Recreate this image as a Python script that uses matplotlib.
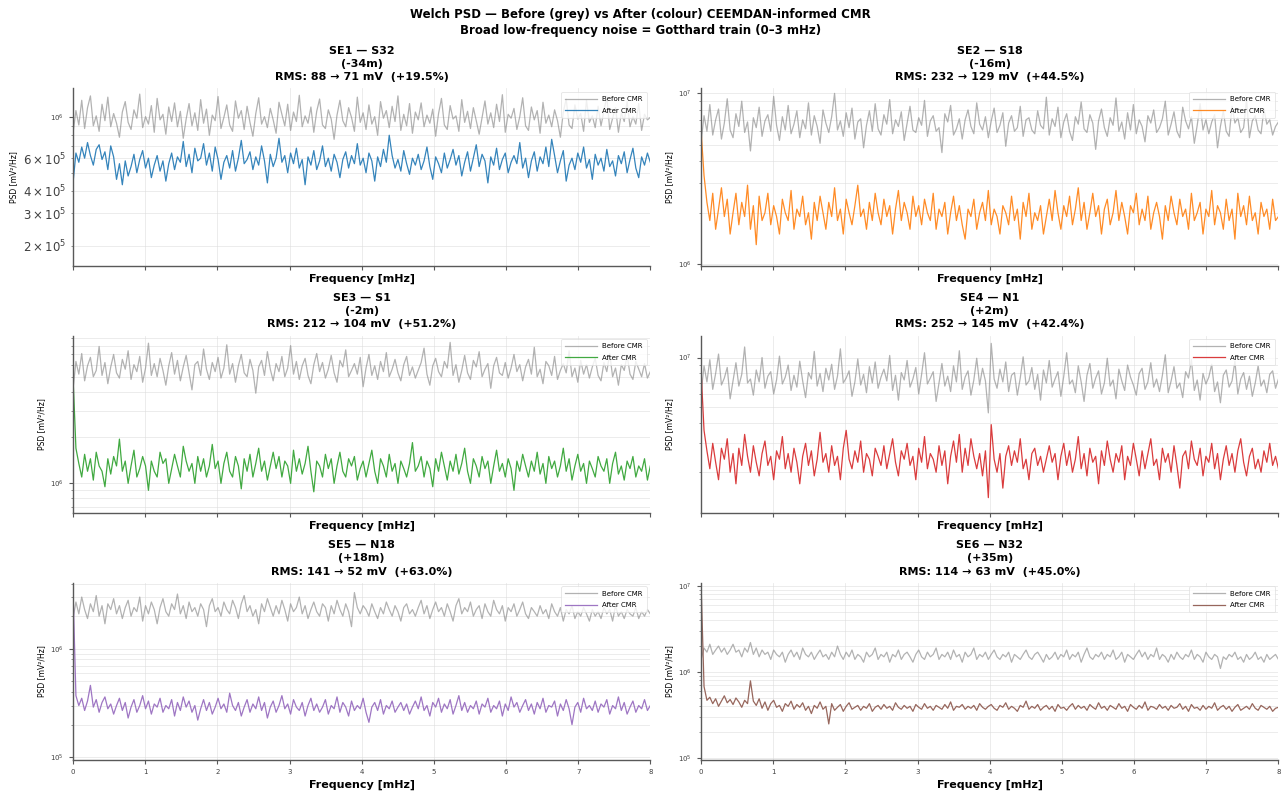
import numpy as np
import matplotlib
matplotlib.use("Agg")
import matplotlib.pyplot as plt

# ---------------- data ----------------
titles = ["SE1 — S32\n(-34m)\nRMS: 88 → 71 mV  (+19.5%)",
          "SE2 — S18\n(-16m)\nRMS: 232 → 129 mV  (+44.5%)",
          "SE3 — S1\n(-2m)\nRMS: 212 → 104 mV  (+51.2%)",
          "SE4 — N1\n(+2m)\nRMS: 252 → 145 mV  (+42.4%)",
          "SE5 — N18\n(+18m)\nRMS: 141 → 52 mV  (+63.0%)",
          "SE6 — N32\n(+35m)\nRMS: 114 → 63 mV  (+45.0%)"]
colors = ["#1f77b4", "#ff7f0e", "#2ca02c", "#d62728", "#9467bd", "#8c564b"]
xticks = [0, 1, 2, 3, 4, 5, 6, 7, 8]

# PSD values [mV^2/Hz], stored in scaled units (see scales below)
p1_before = [8.2, 10.9, 9.1, 12.4, 8.7, 11.3, 13.1, 9.0, 10.2, 8.4, 11.8, 9.6, 12.9, 8.9, 10.5, 9.3, 7.8, 10.7, 12.2, 9.4,
             8.6, 11.0, 9.9, 13.4, 8.8, 10.1, 9.2, 11.6, 8.3, 12.7, 9.7, 10.4, 8.1, 11.4, 9.5, 12.0, 8.9, 10.8, 7.7, 9.8,
             11.9, 9.0, 10.6, 8.5, 12.5, 9.3, 11.1, 8.0, 10.3, 9.6, 13.0, 8.7, 10.0, 11.7, 9.1, 8.4, 12.3, 9.9, 10.9, 8.6,
             11.5, 9.4, 7.9, 10.5, 12.8, 9.2, 10.1, 8.8, 11.2, 9.7, 8.2, 12.1, 10.4, 9.0, 11.8, 8.5, 10.7, 9.5, 13.2, 8.9,
             10.2, 9.3, 11.4, 8.3, 10.8, 12.6, 9.1, 8.7, 11.0, 9.8, 7.6, 10.3, 12.4, 9.6, 8.9, 11.3, 10.0, 8.4, 12.9, 9.4,
             10.6, 8.6, 11.7, 9.2, 10.1, 8.0, 12.2, 9.9, 10.9, 8.8, 11.5, 9.5, 13.1, 8.5, 10.4, 9.0, 11.9, 8.2, 10.7, 9.7,
             12.0, 8.9, 10.3, 9.3, 11.1, 7.9, 10.5, 12.7, 9.1, 8.6, 11.6, 9.8, 10.2, 8.4, 12.5, 9.4, 10.8, 8.7, 11.3, 9.6,
             8.1, 10.0, 12.3, 9.2, 10.6, 8.8, 11.8, 9.5, 13.3, 8.3, 10.4, 9.9, 11.2, 8.6, 10.1, 12.8, 9.0, 8.5, 11.4, 9.7,
             10.9, 8.2, 12.1, 9.3, 10.3, 8.9, 11.0, 9.6, 7.8, 10.7, 12.6, 9.1, 8.7, 11.7, 9.8, 10.5, 8.4, 12.4, 9.4, 10.2,
             8.8, 11.5, 9.0, 10.8, 13.0, 8.6, 9.9, 11.3, 8.3, 10.6, 9.5, 12.2, 8.9, 10.1, 9.2, 11.9, 8.5, 10.4, 9.7, 10.0]
p1_after = [4.4, 6.4, 5.7, 6.9, 6.0, 7.3, 6.2, 5.5, 6.7, 7.1, 5.9, 6.5, 5.2, 7.0, 6.1, 4.6, 5.6, 4.3, 5.8, 4.8,
            5.4, 6.3, 5.0, 5.9, 6.6, 5.3, 6.0, 4.7, 5.5, 6.2, 5.1, 5.8, 4.5, 5.6, 6.4, 5.2, 6.1, 5.7, 7.4, 5.4,
            6.3, 5.0, 6.8, 5.8, 6.0, 7.2, 5.5, 6.4, 5.1, 6.9, 5.9, 4.6, 5.7, 6.2, 5.3, 6.6, 5.1, 6.0, 7.5, 5.6,
            5.9, 6.5, 5.2, 6.1, 5.5, 7.0, 5.8, 4.4, 6.3, 5.4, 6.0, 7.7, 5.7, 6.2, 5.0, 6.4, 5.6, 6.8, 5.3, 5.9,
            4.3, 6.1, 5.5, 6.6, 5.2, 5.8, 7.0, 5.4, 6.0, 5.1, 6.3, 5.7, 4.7, 5.9, 6.5, 5.3, 6.2, 5.6, 7.2, 5.5,
            6.0, 5.0, 6.4, 5.8, 4.5, 6.1, 5.4, 6.7, 5.7, 8.0, 6.2, 5.3, 5.9, 5.1, 6.6, 5.6, 4.9, 6.0, 5.5, 6.3,
            5.2, 5.8, 6.9, 5.4, 4.6, 6.1, 5.6, 5.0, 6.4, 5.3, 5.9, 6.7, 5.5, 6.2, 4.8, 5.7, 6.5, 5.1, 6.0, 7.1,
            5.4, 6.3, 5.8, 4.4, 6.1, 5.5, 6.8, 5.2, 5.9, 6.4, 5.0, 5.7, 6.2, 5.6, 7.3, 5.3, 6.0, 4.7, 5.8, 6.5,
            5.1, 6.1, 5.6, 6.9, 5.4, 7.6, 6.2, 5.0, 5.8, 6.6, 4.5, 5.5, 6.0, 5.2, 6.4, 5.7, 6.9, 5.3, 5.9, 4.6,
            6.3, 5.5, 6.0, 5.1, 6.7, 5.4, 5.8, 4.8, 6.2, 5.6, 6.5, 5.0, 5.9, 6.8, 5.3, 4.7, 6.1, 5.5, 6.4, 5.7]
p2_before = [5.2, 7.4, 6.0, 8.6, 5.7, 7.0, 8.1, 5.4, 6.7, 9.3, 6.1, 5.5, 7.6, 6.4, 9.0, 5.9, 6.8, 4.6, 7.2, 6.3,
             8.3, 5.6, 6.9, 7.5, 6.0, 9.6, 6.5, 5.3, 7.3, 6.1, 8.5, 5.8, 6.6, 7.9, 5.5, 7.0, 6.2, 8.8, 5.7, 7.4,
             6.4, 5.1, 8.0, 6.7, 5.9, 7.3, 10.0, 6.1, 6.9, 5.6, 7.7, 6.3, 8.2, 5.4, 6.8, 7.1, 4.8, 6.5, 7.9, 6.0,
             8.7, 6.2, 5.7, 7.5, 6.6, 9.2, 5.8, 7.0, 6.4, 7.8, 5.3, 6.7, 8.4, 6.1, 5.9, 7.2, 6.5, 9.1, 5.6, 6.9,
             7.4, 6.0, 6.3, 4.5, 7.6, 6.8, 8.5, 5.7, 6.2, 7.1, 5.4, 7.0, 8.0, 6.4, 5.8, 8.8, 6.6, 6.1, 7.3, 5.5,
             6.9, 8.2, 5.9, 6.5, 7.7, 4.9, 6.7, 7.4, 6.0, 6.3, 8.4, 5.6, 7.0, 7.2, 6.1, 5.8, 7.9, 6.5, 6.2, 9.5,
             5.7, 7.1, 6.4, 8.3, 5.5, 6.8, 7.6, 6.0, 5.3, 7.3, 6.6, 8.9, 6.2, 5.9, 7.5, 6.7, 4.7, 6.9, 8.1, 6.3,
             5.6, 7.2, 6.5, 9.4, 6.0, 6.8, 5.4, 7.7, 6.1, 8.6, 5.8, 7.0, 6.4, 5.2, 7.4, 6.7, 8.0, 5.9, 6.3, 7.1,
             9.0, 5.7, 6.6, 7.8, 6.0, 5.5, 8.3, 6.9, 6.2, 7.3, 5.1, 6.5, 8.7, 6.1, 7.0, 5.8, 6.8, 7.5, 4.8, 6.4,
             7.9, 6.0, 5.6, 8.4, 6.7, 7.2, 5.9, 6.3, 9.2, 5.5, 6.9, 7.4, 6.1, 5.8, 8.1, 6.6, 7.0, 5.7, 6.4, 6.8]
p2_after = [6.0, 3.3, 2.3, 1.8, 2.6, 1.6, 2.1, 2.8, 1.9, 2.4, 1.5, 2.0, 2.6, 1.7, 2.3, 1.9, 2.9, 1.6, 2.2, 1.3,
            2.5, 1.8, 2.0, 2.6, 1.7, 2.2, 1.9, 1.5, 2.4, 2.0, 1.8, 2.7, 1.6, 2.1, 1.9, 2.5, 1.7, 2.0, 1.4, 2.3,
            1.8, 2.5, 2.0, 1.6, 2.3, 1.9, 2.8, 1.8, 2.1, 1.5, 2.4, 2.0, 1.7, 2.2, 2.9, 1.9, 2.1, 1.6, 2.3, 1.8,
            2.6, 2.0, 1.7, 2.4, 1.9, 2.2, 1.5, 2.1, 2.7, 1.8, 2.3, 2.0, 1.6, 2.5, 1.9, 2.2, 1.7, 2.4, 2.0, 1.8,
            2.6, 1.6, 2.1, 1.9, 2.3, 1.5, 2.0, 2.5, 1.8, 2.2, 1.7, 1.4, 2.1, 1.9, 2.4, 1.6, 2.0, 2.3, 1.8, 2.7,
            1.7, 2.1, 1.9, 1.5, 2.2, 2.0, 1.7, 2.5, 1.8, 2.1, 1.4, 2.3, 1.9, 2.6, 1.6, 2.0, 1.8, 2.2, 1.5, 1.9,
            2.4, 1.8, 2.7, 2.0, 1.6, 2.2, 1.9, 2.5, 1.7, 2.1, 2.8, 1.8, 2.3, 1.6, 2.0, 2.6, 1.9, 2.2, 1.5, 2.1,
            2.4, 1.7, 2.0, 2.7, 1.8, 2.3, 1.9, 1.5, 2.2, 2.0, 2.6, 1.7, 2.1, 1.8, 2.5, 1.6, 2.0, 2.3, 1.9, 1.4,
            2.2, 1.8, 2.5, 2.0, 1.7, 2.4, 1.9, 2.1, 1.6, 2.6, 1.8, 2.0, 2.3, 1.5, 2.1, 1.9, 2.7, 1.7, 2.2, 2.0,
            1.6, 2.4, 1.8, 2.1, 1.4, 2.6, 1.9, 2.2, 1.7, 2.5, 1.8, 2.0, 1.5, 2.3, 1.9, 2.1, 1.6, 2.4, 1.8, 1.9]
p3_before = [4.1, 6.3, 5.2, 7.1, 4.7, 5.9, 6.7, 5.0, 5.5, 7.9, 5.1, 6.2, 4.5, 5.8, 7.0, 5.3, 4.9, 6.5, 5.6, 7.4,
             4.8, 6.0, 5.4, 6.8, 4.6, 5.7, 8.3, 5.1, 6.1, 5.0, 6.6, 5.5, 4.4, 5.9, 7.2, 5.2, 6.4, 4.7, 5.8, 6.9,
             5.3, 4.1, 6.0, 6.3, 5.1, 7.6, 5.6, 4.8, 6.2, 5.4, 6.7, 4.9, 5.7, 8.1, 5.2, 6.1, 4.6, 5.9, 7.0, 5.3,
             5.0, 6.5, 5.5, 3.9, 5.8, 6.4, 5.1, 7.3, 5.6, 4.7, 6.1, 5.4, 6.8, 5.0, 5.7, 8.0, 5.2, 6.3, 4.8, 5.9,
             6.6, 5.1, 4.5, 6.0, 7.1, 5.4, 6.2, 4.9, 5.6, 6.9, 5.3, 4.6, 6.4, 5.8, 7.5, 5.0, 5.5, 6.1, 5.2, 6.7,
             4.3, 5.7, 7.0, 5.1, 5.9, 4.8, 6.3, 5.4, 7.2, 5.0, 5.6, 6.5, 5.3, 4.7, 6.0, 6.8, 5.1, 5.8, 4.9, 5.5,
             6.2, 7.7, 5.2, 4.4, 5.9, 6.6, 5.4, 5.0, 6.3, 5.7, 8.4, 5.1, 6.0, 4.6, 5.5, 6.9, 5.3, 4.8, 6.4, 5.8,
             7.3, 5.0, 5.6, 6.1, 4.2, 5.9, 6.7, 5.3, 5.1, 6.2, 4.9, 5.7, 7.0, 5.4, 6.0, 4.7, 5.8, 6.5, 5.2, 7.8,
             5.0, 5.6, 4.5, 6.3, 5.9, 5.1, 6.8, 4.8, 5.5, 6.1, 5.3, 7.4, 5.0, 5.7, 4.6, 6.4, 5.2, 6.0, 4.9, 5.8,
             6.6, 5.1, 4.7, 6.2, 5.4, 7.1, 5.0, 5.7, 4.4, 6.0, 5.5, 6.9, 5.2, 4.8, 6.3, 5.6, 5.0, 6.1, 4.9, 5.4]
p3_after = [5.0, 1.7, 1.35, 1.1, 1.55, 1.2, 1.45, 1.05, 1.6, 1.3, 1.2, 0.95, 1.45, 1.15, 1.5, 1.3, 1.95, 1.2, 1.4, 1.0,
            1.3, 1.65, 1.1, 1.25, 1.5, 1.3, 0.9, 1.4, 1.2, 1.1, 1.6, 1.35, 1.45, 1.0, 1.25, 1.55, 1.3, 1.1, 1.75, 1.4,
            1.2, 1.35, 1.0, 1.5, 1.2, 1.45, 1.1, 1.3, 1.8, 1.25, 1.4, 1.0, 1.35, 1.6, 1.2, 1.1, 1.5, 1.3, 0.92, 1.45,
            1.2, 1.55, 1.1, 1.35, 1.7, 1.2, 1.4, 1.05, 1.3, 1.6, 1.25, 1.5, 1.1, 1.4, 1.3, 1.0, 1.65, 1.2, 1.45, 1.15,
            1.35, 1.75, 1.2, 0.88, 1.4, 1.3, 1.1, 1.55, 1.25, 1.45, 1.0, 1.3, 1.6, 1.2, 1.1, 1.45, 1.3, 1.5, 1.05, 1.25,
            1.4, 1.1, 1.35, 1.65, 1.2, 1.0, 1.45, 1.3, 1.1, 1.55, 1.2, 1.35, 1.0, 1.4, 1.25, 1.1, 1.35, 1.85, 1.2, 1.3,
            1.5, 1.1, 1.4, 1.25, 0.95, 1.45, 1.2, 1.6, 1.3, 1.05, 1.4, 1.2, 1.55, 1.15, 1.35, 1.7, 1.2, 1.0, 1.45, 1.3,
            1.1, 1.5, 1.25, 1.4, 1.0, 1.3, 1.65, 1.2, 1.35, 1.1, 1.45, 1.25, 0.9, 1.4, 1.2, 1.55, 1.3, 1.1, 1.4, 1.2,
            1.6, 1.15, 1.35, 1.0, 1.5, 1.25, 1.4, 1.1, 1.3, 1.7, 1.2, 1.45, 1.05, 1.3, 1.55, 1.2, 1.35, 1.0, 1.4, 1.25,
            1.1, 1.5, 1.3, 1.2, 1.45, 1.0, 1.35, 1.6, 1.15, 1.3, 1.05, 1.4, 1.25, 1.5, 1.1, 1.3, 1.2, 1.45, 1.05, 1.3]
p4_before = [6.1, 8.9, 7.1, 9.7, 6.4, 8.0, 10.5, 6.8, 7.5, 8.7, 5.6, 7.2, 9.3, 6.7, 7.9, 11.6, 7.0, 7.4, 5.9, 8.4,
             7.1, 10.0, 6.5, 7.7, 8.2, 6.0, 7.3, 10.2, 6.9, 7.6, 9.0, 6.3, 7.8, 6.6, 9.5, 7.2, 5.7, 8.1, 7.4, 10.9,
             6.7, 8.0, 6.2, 8.6, 7.3, 9.1, 6.4, 7.7, 11.3, 7.0, 7.5, 8.3, 5.8, 7.1, 9.8, 6.8, 7.9, 6.1, 8.8, 7.0,
             9.4, 6.5, 7.6, 8.5, 7.2, 10.3, 6.3, 7.8, 5.5, 8.1, 7.3, 9.6, 6.6, 7.4, 8.7, 6.0, 7.9, 10.7, 6.9, 7.5,
             8.2, 5.4, 7.0, 9.2, 6.7, 7.7, 6.2, 8.9, 7.1, 11.0, 6.4, 7.6, 8.3, 5.9, 7.3, 9.9, 6.8, 8.6, 7.2, 4.6,
             12.2, 7.4, 6.5, 8.5, 7.1, 9.4, 6.2, 7.8, 8.1, 5.9, 7.5, 10.1, 6.8, 7.2, 8.7, 6.4, 7.9, 5.5, 8.4, 7.0,
             9.6, 6.6, 7.4, 8.2, 5.8, 7.7, 10.7, 6.9, 7.3, 6.1, 8.9, 7.1, 5.4, 7.8, 9.2, 6.5, 7.5, 8.3, 6.0, 7.0,
             9.9, 6.7, 7.3, 5.6, 8.5, 7.2, 6.3, 9.0, 7.6, 6.8, 5.9, 8.0, 8.6, 6.4, 7.1, 9.3, 6.6, 7.4, 6.2, 7.8,
             10.4, 6.1, 7.2, 8.8, 6.5, 7.0, 5.7, 8.2, 7.5, 9.7, 6.3, 7.3, 5.5, 8.0, 6.9, 7.6, 9.1, 6.2, 7.1, 5.3,
             7.8, 8.4, 6.6, 7.2, 9.5, 6.0, 7.4, 8.1, 6.4, 7.7, 5.8, 7.0, 8.9, 6.7, 7.3, 6.1, 7.9, 8.3, 6.5, 7.4]
p4_after = [8.2, 3.6, 2.7, 2.1, 3.0, 2.3, 1.8, 2.8, 2.4, 3.2, 2.0, 2.6, 1.7, 2.8, 2.2, 3.4, 2.5, 2.0, 2.9, 2.3,
            1.9, 2.6, 3.1, 2.2, 2.5, 1.8, 2.7, 2.4, 3.3, 2.1, 2.6, 2.0, 2.8, 2.3, 1.7, 2.5, 3.0, 2.2, 2.7, 1.9,
            2.4, 3.5, 2.3, 2.6, 2.0, 2.9, 2.2, 2.5, 1.8, 2.8, 3.6, 2.4, 2.1, 2.7, 2.3, 3.1, 2.0, 2.6, 2.4, 1.9,
            2.8, 2.5, 2.2, 2.9, 2.1, 2.6, 3.2, 2.3, 1.9, 2.7, 2.4, 3.0, 2.2, 2.5, 1.8, 2.8, 2.3, 3.3, 2.1, 2.6,
            2.4, 2.0, 2.9, 2.2, 2.7, 1.7, 2.5, 3.1, 2.3, 3.4, 2.0, 2.8, 2.2, 3.2, 2.5, 2.1, 2.6, 1.9, 2.7, 1.4,
            3.9, 2.4, 2.0, 2.6, 1.6, 2.5, 2.9, 2.2, 2.7, 2.3, 3.2, 2.1, 2.4, 1.8, 2.6, 2.8, 2.2, 2.5, 2.0, 2.4,
            2.9, 2.3, 2.6, 1.8, 2.5, 3.0, 2.2, 2.7, 2.0, 2.4, 3.3, 2.1, 2.6, 1.9, 2.8, 2.3, 2.5, 1.7, 2.7, 2.2,
            3.1, 2.4, 2.0, 2.6, 2.3, 2.9, 1.8, 2.5, 2.2, 3.0, 2.4, 1.9, 2.7, 2.1, 2.6, 3.2, 2.2, 2.4, 1.8, 2.8,
            2.3, 2.6, 2.0, 2.9, 2.2, 1.6, 2.5, 2.7, 2.1, 3.1, 2.4, 2.2, 2.8, 1.9, 2.5, 2.3, 3.0, 2.1, 2.6, 1.8,
            2.4, 2.9, 2.2, 2.6, 2.0, 2.7, 3.2, 2.3, 1.9, 2.5, 2.8, 2.1, 2.4, 2.0, 2.7, 2.3, 3.0, 2.2, 2.5, 2.1]
p5_before = [1.9, 2.7, 2.1, 3.0, 2.3, 1.9, 2.6, 2.2, 3.1, 2.0, 2.5, 1.7, 2.6, 2.3, 2.9, 2.1, 2.5, 1.9, 2.4, 2.8,
             2.0, 2.4, 2.2, 3.0, 1.8, 2.5, 2.1, 2.7, 2.3, 1.7, 2.4, 2.9, 2.2, 2.0, 2.6, 2.3, 3.2, 2.1, 2.5, 1.9,
             2.7, 2.2, 2.4, 2.0, 2.6, 2.3, 1.6, 2.5, 2.9, 2.2, 2.4, 2.0, 2.7, 2.3, 2.1, 2.8, 2.4, 1.9, 2.6, 3.1,
             2.2, 2.5, 2.0, 2.3, 1.7, 2.6, 2.2, 2.9, 2.4, 2.0, 2.5, 2.1, 2.8, 2.3, 1.8, 2.6, 2.2, 2.4, 3.0, 2.1,
             2.5, 1.9, 2.3, 2.7, 2.2, 2.0, 2.6, 2.4, 1.8, 2.5, 2.1, 2.8, 2.3, 2.0, 2.6, 2.2, 1.6, 3.3, 2.4, 2.1,
             2.5, 2.3, 2.0, 2.6, 2.2, 1.9, 2.4, 2.1, 2.7, 2.3, 2.0, 2.5, 2.2, 1.8, 2.4, 2.6, 2.1, 2.3, 2.0, 2.4,
             2.8, 2.1, 2.5, 1.9, 2.3, 2.7, 2.2, 2.4, 2.0, 2.6, 2.2, 1.8, 2.5, 2.9, 2.1, 2.4, 2.2, 2.7, 2.0, 2.3,
             2.5, 1.9, 2.6, 2.2, 2.0, 2.8, 2.3, 2.1, 2.5, 1.8, 2.4, 2.2, 2.6, 2.0, 2.3, 2.7, 2.1, 1.9, 2.4, 2.2,
             2.0, 2.5, 2.1, 2.3, 1.9, 2.6, 2.2, 2.0, 2.4, 1.8, 2.3, 2.1, 2.5, 1.9, 2.2, 2.0, 2.4, 2.1, 1.8, 2.3,
             2.0, 2.2, 1.9, 2.4, 2.1, 2.3, 1.8, 2.5, 2.0, 2.2, 1.9, 2.3, 2.1, 2.0, 2.4, 1.9, 2.2, 2.0, 2.3, 2.1]
p5_after = [35.0, 3.7, 3.0, 3.5, 2.7, 3.3, 4.6, 2.9, 3.4, 2.6, 3.2, 3.6, 2.8, 3.1, 2.5, 3.0, 3.5, 2.7, 3.2, 2.3,
            2.9, 3.4, 2.6, 3.0, 3.7, 2.8, 3.3, 2.5, 3.1, 2.9, 3.5, 2.6, 3.0, 2.8, 3.4, 2.4, 3.2, 2.7, 3.6, 2.9,
            3.3, 2.6, 3.0, 2.2, 2.8, 3.4, 2.7, 3.2, 2.5, 2.9, 3.5, 2.8, 3.1, 2.6, 3.9, 3.0, 2.7, 3.2, 2.4, 2.9,
            3.4, 2.6, 3.1, 2.8, 3.6, 2.7, 3.2, 2.3, 2.9, 3.3, 2.6, 3.0, 3.7, 2.8, 3.1, 2.5, 3.4, 2.9, 2.7, 3.2,
            2.4, 3.0, 3.5, 2.7, 3.1, 2.6, 2.9, 3.4, 2.5, 3.0, 2.8, 3.6, 2.6, 3.2, 2.9, 2.4, 3.3, 2.7, 3.0, 2.8,
            3.5, 2.6, 2.1, 2.9, 3.2, 2.7, 3.4, 2.5, 3.0, 2.8, 3.3, 2.6, 2.9, 3.2, 2.7, 3.1, 2.5, 2.9, 3.3, 2.8,
            3.6, 2.7, 3.0, 2.4, 3.2, 2.9, 3.5, 2.6, 3.1, 2.8, 3.4, 2.5, 3.0, 3.7, 2.7, 3.2, 2.6, 3.0, 2.8, 3.3,
            2.5, 3.1, 2.9, 3.5, 2.6, 3.0, 2.8, 3.3, 2.4, 3.1, 2.7, 3.6, 2.9, 3.2, 2.6, 3.0, 3.4, 2.7, 3.1, 2.5,
            3.2, 2.8, 3.5, 2.6, 3.0, 2.9, 3.3, 2.4, 3.1, 2.7, 3.4, 2.8, 2.0, 2.9, 3.2, 2.6, 3.5, 2.8, 3.0, 2.7,
            3.3, 2.6, 3.1, 2.9, 3.4, 2.5, 3.0, 2.8, 3.6, 2.7, 3.2, 2.5, 2.9, 3.3, 2.6, 3.0, 2.8, 3.4, 2.7, 3.0]
p6_before = [1.4, 1.9, 1.7, 2.1, 1.6, 1.8, 2.0, 1.7, 1.9, 1.6, 1.8, 2.1, 1.7, 1.8, 1.5, 1.9, 1.7, 2.2, 1.6, 1.9,
             1.5, 1.8, 1.6, 1.7, 1.4, 1.8, 1.6, 1.5, 1.7, 1.3, 1.6, 1.8, 1.5, 1.7, 1.4, 1.9, 1.6, 1.5, 1.7, 1.4,
             1.6, 1.8, 1.5, 1.6, 1.4, 1.7, 1.5, 2.0, 1.6, 1.4, 1.7, 1.5, 1.8, 1.4, 1.6, 1.5, 1.3, 1.7, 1.5, 1.6,
             1.9, 1.4, 1.6, 1.5, 1.7, 1.3, 1.6, 1.5, 1.8, 1.4, 1.6, 1.7, 1.5, 1.3, 1.6, 1.8, 1.5, 1.4, 1.7, 1.5,
             1.6, 1.9, 1.4, 1.6, 1.5, 1.7, 1.4, 1.8, 1.5, 1.6, 1.3, 1.7, 1.5, 1.6, 1.9, 1.4, 1.6, 1.5, 1.7, 1.4,
             1.6, 1.8, 1.5, 1.4, 1.6, 1.5, 1.7, 1.3, 1.6, 1.5, 1.4, 1.6, 1.8, 1.5, 1.4, 1.6, 1.7, 1.5, 1.3, 1.6,
             1.4, 1.5, 1.7, 1.4, 1.6, 1.5, 1.8, 1.4, 1.6, 1.5, 1.7, 1.3, 1.6, 1.9, 1.5, 1.4, 1.6, 1.5, 1.7, 1.4,
             1.6, 1.5, 1.8, 1.4, 1.5, 1.7, 1.3, 1.6, 1.5, 1.4, 1.6, 1.8, 1.5, 1.7, 1.4, 1.6, 1.5, 1.9, 1.4, 1.6,
             1.5, 1.3, 1.6, 1.4, 1.7, 1.5, 1.4, 1.6, 1.5, 1.8, 1.4, 1.6, 1.5, 1.3, 1.7, 1.5, 1.4, 1.6, 1.5, 1.1,
             1.5, 1.4, 1.6, 1.5, 1.7, 1.4, 1.5, 1.3, 1.6, 1.4, 1.5, 1.7, 1.4, 1.5, 1.3, 1.6, 1.4, 1.5, 1.6, 1.4]
p6_after = [100.0, 6.8, 4.7, 5.1, 4.3, 4.9, 4.0, 4.6, 5.3, 4.4, 4.8, 4.2, 5.0, 4.5, 3.9, 4.7, 4.3, 7.9, 4.6, 4.1,
            4.9, 3.8, 4.5, 3.6, 4.3, 4.7, 3.9, 4.1, 3.5, 4.3, 4.0, 4.6, 3.7, 4.2, 3.9, 4.4, 3.6, 4.0, 3.3, 4.1,
            3.8, 4.5, 3.7, 4.0, 2.5, 4.3, 3.6, 3.9, 4.2, 3.5, 4.0, 4.4, 3.7, 3.9, 4.1, 3.6, 4.0, 3.8, 4.3, 3.5,
            3.9, 4.1, 3.7, 4.2, 3.8, 4.0, 3.6, 4.4, 3.9, 3.7, 4.1, 3.8, 4.0, 3.5, 4.2, 3.9, 3.7, 4.3, 3.8, 4.0,
            3.6, 4.1, 3.9, 3.7, 4.2, 3.8, 4.5, 3.6, 4.0, 3.9, 4.2, 3.7, 4.0, 3.8, 4.1, 3.6, 4.3, 3.9, 3.7, 4.0,
            4.2, 3.8, 3.6, 4.1, 3.9, 4.4, 3.7, 4.0, 3.8, 3.5, 4.1, 3.9, 4.6, 3.7, 4.0, 3.8, 4.2, 3.6, 3.9, 4.1,
            3.7, 4.0, 3.5, 4.2, 3.8, 3.9, 3.6, 4.0, 4.3, 3.7, 4.1, 3.8, 4.0, 3.6, 4.2, 3.9, 3.7, 4.4, 3.8, 4.0,
            3.6, 4.1, 3.9, 3.7, 4.3, 3.8, 4.0, 3.5, 4.2, 3.9, 3.7, 4.1, 3.8, 4.5, 3.6, 4.0, 3.9, 3.7, 4.2, 3.8,
            4.0, 3.6, 4.1, 3.8, 3.9, 4.3, 3.7, 4.0, 3.5, 4.2, 3.8, 3.9, 3.6, 4.1, 3.7, 4.0, 3.8, 4.4, 3.6, 3.9,
            4.1, 3.7, 4.0, 3.5, 3.9, 4.2, 3.6, 3.8, 4.0, 3.7, 4.3, 3.8, 3.6, 4.1, 3.9, 3.7, 4.0, 3.5, 3.8, 3.9]

before_all = [p1_before, p2_before, p3_before, p4_before, p5_before, p6_before]
after_all = [p1_after, p2_after, p3_after, p4_after, p5_after, p6_after]
before_scale = [1e5, 1e6, 1e6, 1e6, 1e6, 1e6]
after_scale = [1e5, 1e6, 1e6, 1e6, 1e5, 1e5]
ylims = [(1.56e5, 1.44e6), (0.98e6, 1.07e7), (6.4e5, 9.3e6),
         (1.13e6, 1.36e7), (9.4e4, 4.05e6), (9.5e4, 1.08e7)]

# ---------------- figure ----------------
fig = plt.figure(figsize=(12.81, 7.96), dpi=100)
axes = fig.subplots(3, 2, sharex=True)
fig.subplots_adjust(left=0.057, right=0.998, bottom=0.045, top=0.889,
                    wspace=0.088, hspace=0.395)

fig.text(0.5, 1 - 8 / 796,
         "Welch PSD — Before (grey) vs After (colour) CEEMDAN-informed CMR\n"
         "Broad low-frequency noise = Gotthard train (0–3 mHz)",
         ha="center", va="top", fontsize=8.5, fontweight="bold", linespacing=1.3)

for i, ax in enumerate(axes.flat):
    yb = np.array(before_all[i]) * before_scale[i]
    ya = np.array(after_all[i]) * after_scale[i]
    fb = np.linspace(0, 8, len(yb))
    fa = np.linspace(0, 8, len(ya))
    ax.semilogy(fb, yb, color="grey", alpha=0.6, lw=0.9, label="Before CMR")
    ax.semilogy(fa, ya, color=colors[i], alpha=0.9, lw=0.9, label="After CMR")
    ax.set_xlim(0, 8)
    ax.set_ylim(*ylims[i])
    ax.set_xticks(xticks)
    ax.set_title(titles[i], fontsize=8, fontweight="bold", pad=6, linespacing=1.4)
    ax.set_xlabel("Frequency [mHz]", fontsize=8, fontweight="bold", labelpad=3)
    ax.set_ylabel("PSD [mV²/Hz]", fontsize=5.5, labelpad=3)
    ax.grid(True, which="both", color="#dddddd", lw=0.5, alpha=0.8)
    for s in ("top", "right"):
        ax.spines[s].set_visible(False)
    for s in ("left", "bottom"):
        ax.spines[s].set_color("0.35")
        ax.spines[s].set_linewidth(1.0)
    ax.tick_params(axis="both", which="major", labelsize=5, length=3,
                   color="0.35", labelcolor="0.25")
    ax.tick_params(axis="y", which="minor", labelsize=8.5, length=1.5,
                   color="0.5", labelcolor="0.25")
    leg = ax.legend(loc="upper right", fontsize=5, frameon=True,
                    handlelength=4.5, borderpad=0.6, labelspacing=0.8)
    leg.get_frame().set_edgecolor("#dddddd")
    leg.get_frame().set_linewidth(0.6)

fig.savefig("out.png", dpi=100)
